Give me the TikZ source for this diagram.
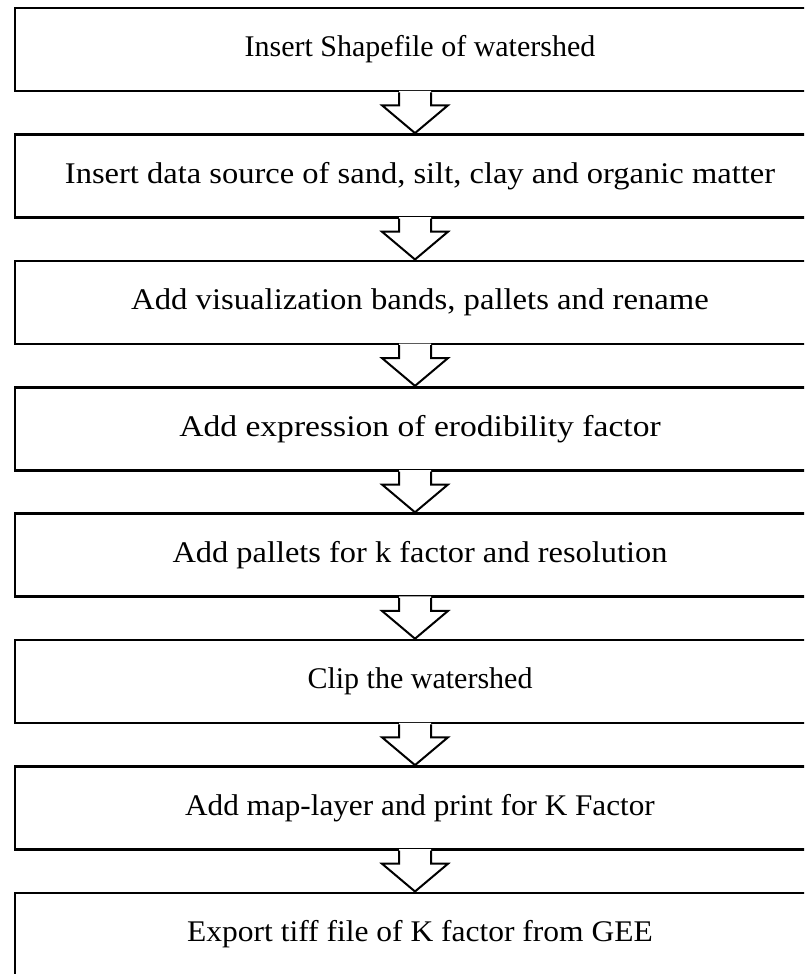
\documentclass[tikz,border=0pt]{standalone}
\usepackage{graphicx}
\usepackage{fontspec}
\setmainfont{Liberation Serif}
\usetikzlibrary{calc}
\tikzset{
  stepbox/.style={draw=black, line width=2.6pt, fill=white, minimum width=810pt,
    minimum height=83pt, inner sep=0pt, font=\fontsize{30pt}{36pt}\selectfont},
  flowarrow/.style={draw=black, line width=2pt, line join=miter, fill=white}
}
% horizontally stretched label text
\newcommand{\wide}[2]{\scalebox{#1}[1]{#2}}
\begin{document}
\begin{tikzpicture}[x=1pt,y=-1pt]
  \clip (0,0) rectangle (804,974);
  % process steps, top to bottom
  \node[stepbox] (b1) at (420,49.5)  {\wide{1.0}{Insert Shapefile of watershed}};
  \node[stepbox] (b2) at (420,175.9) {\wide{1.084}{Insert data source of sand, silt, clay and organic matter}};
  \node[stepbox] (b3) at (420,302.3) {\wide{1.09}{Add visualization bands, pallets and rename}};
  \node[stepbox] (b4) at (420,428.7) {\wide{1.12}{Add expression of erodibility factor}};
  \node[stepbox] (b5) at (420,555.1) {\wide{1.08}{Add pallets for k factor and resolution}};
  \node[stepbox] (b6) at (420,681.5) {\wide{1.0}{Clip the watershed}};
  \node[stepbox] (b7) at (420,807.9) {\wide{1.04}{Add map-layer and print for K Factor}};
  \node[stepbox] (b8) at (420,934.3) {\wide{1.05}{Export tiff file of K factor from GEE}};
  % hollow block arrows between consecutive steps
  \foreach \i/\j in {1/2,2/3,3/4,4/5,5/6,6/7,7/8}{
    \path let \p1=($(b\i.south)+(-5,0)$), \p2=($(b\j.north)+(-5,0)$) in
      [fill=white] (\x1-16pt,\y1+1.5pt) -- (\x1-16pt,\y1-13pt) -- (\x1-33pt,\y1-13pt)
        -- (\x2,\y2) -- (\x1+33pt,\y1-13pt) -- (\x1+16pt,\y1-13pt)
        -- (\x1+16pt,\y1+1.5pt) -- cycle;
    \draw[flowarrow, fill=none] let \p1=($(b\i.south)+(-5,0)$), \p2=($(b\j.north)+(-5,0)$) in
      (\x1-16pt,\y1) -- (\x1-16pt,\y1-13pt) -- (\x1-33pt,\y1-13pt)
        -- (\x2,\y2) -- (\x1+33pt,\y1-13pt) -- (\x1+16pt,\y1-13pt)
        -- (\x1+16pt,\y1);
  }
\end{tikzpicture}
\end{document}
